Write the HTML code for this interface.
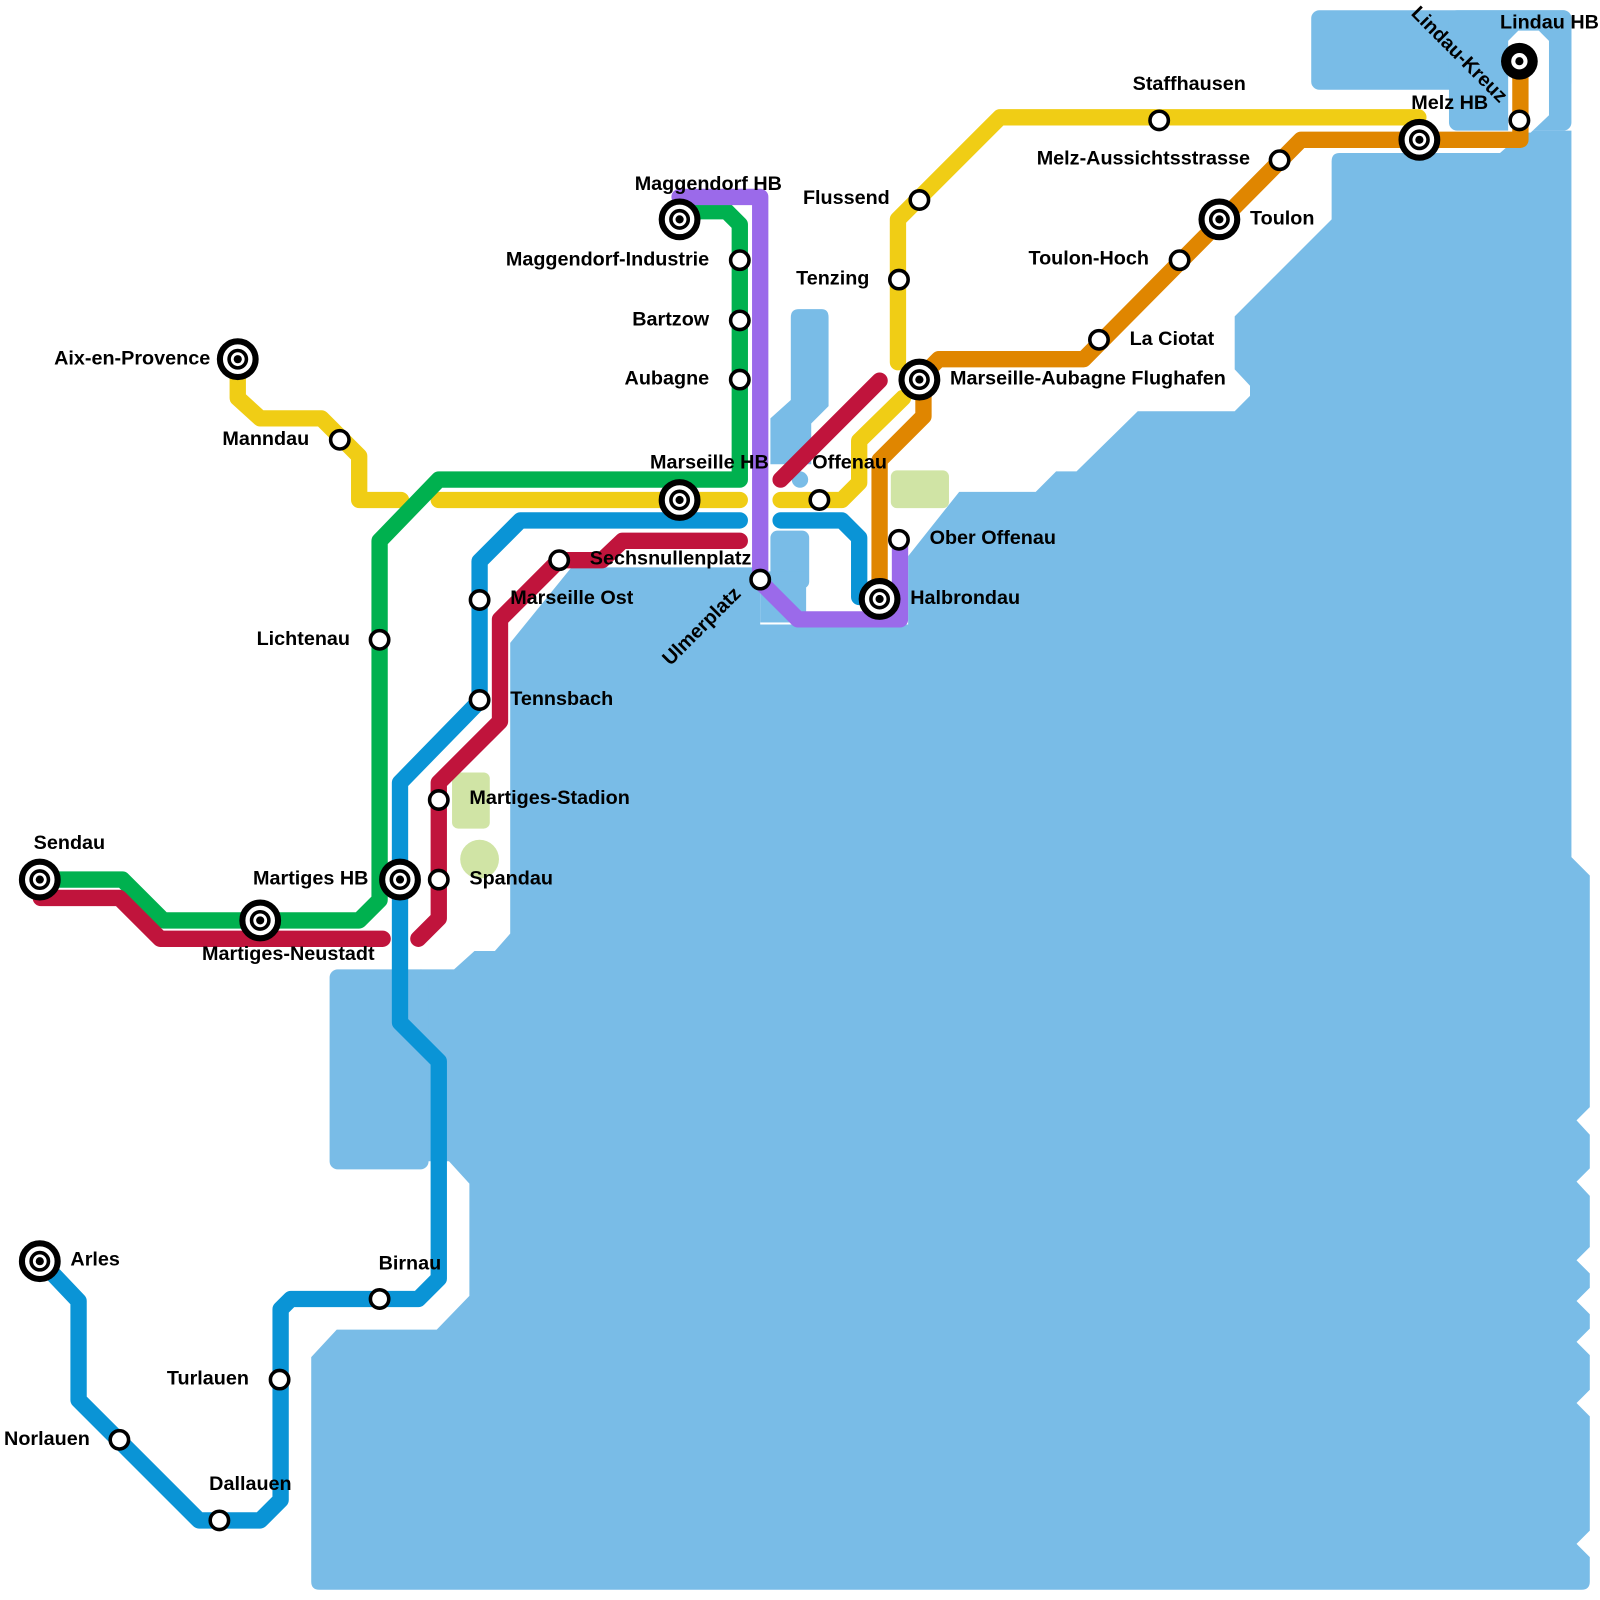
<!DOCTYPE html>
<html><head><meta charset="utf-8"><style>html,body{margin:0;padding:0;background:#fff}svg{display:block}text{font-family:"Liberation Sans",Arial,sans-serif;font-weight:bold;font-size:19.4px;fill:#000}</style></head><body>
<svg width="1600" height="1600" viewBox="0 0 1568 1568" xmlns="http://www.w3.org/2000/svg">
<defs>
<g id="ic"><circle r="17.5" fill="#fff" stroke="#000" stroke-width="6"/><circle r="8.5" fill="#fff" stroke="#000" stroke-width="3.5"/><circle r="4" fill="#000"/></g>
</defs>
<g fill="#79bce7">
<rect x="1285" y="10" width="255" height="78" rx="8"/>
<rect x="1420" y="10" width="120" height="118" rx="8"/>
<path d="M1313,150 H1470 L1495,128 H1540 V840 L1558,858 V1085 L1545,1098 L1558,1112 V1145 L1545,1158 L1558,1172 V1222 L1545,1235 L1558,1248 V1262 L1545,1275 L1558,1288 V1302 L1545,1315 L1558,1328 V1362 L1545,1375 L1558,1388 V1500 L1545,1513 L1558,1526 V1550 Q1558,1558 1550,1558 H313 Q305,1558 305,1550 V1330 L330,1303 H428 L460,1270 V1160 L440,1138 L405,1138 V958 Q405,950 413,950 H445 L465,932 H485 L500,915 V630 L560,556 H745 V612 H890 V545 L940,482 H1015 L1035,462 H1055 L1115,403 H1210 L1225,388 V378 L1210,362 V310 L1305,215 V158 Q1305,150 1313,150 Z"/>
<path d="M755,410 L775,392 V311 Q775,303 783,303 H805 Q812,303 812,311 V398 L795,415 V455 L755,455 Z"/>
<circle cx="784" cy="470" r="8"/>
<rect x="755" y="520" width="38" height="57" rx="7"/>
<rect x="745" y="560" width="45" height="50"/>
<rect x="323" y="950" width="97" height="196" rx="8"/>
</g>
<path d="M1478,40 L1488,30 H1508 L1518,40 V113 L1500,130 H1478 Z" fill="#fff"/>
<g fill="#d0e4a5"><rect x="873" y="461" width="57" height="37" rx="6"/><rect x="443" y="757" width="37" height="55" rx="6"/><circle cx="470" cy="842" r="19"/></g>
<g fill="none" stroke-width="16" stroke-linecap="round" stroke-linejoin="round">
<path stroke="#f0cd15" d="M233,352 V390 L255,410 H315 L352,447 V490 H393 M430,490 H725 M765,490 H825 L842,473 V432 L885,390 M880,355 V215 L980,115 H1390"/>
<path stroke="#00b14f" d="M40,862 H120 L160,902 H352 L372,882 V530 L430,470 H725 V220 L712,207 H666"/>
<path stroke="#c0143c" d="M40,880 H117 L157,920 H375 M410,920 L430,900 V767 L490,707 V607 L548,549 H590 L610,530 H725 M765,470 L862,373"/>
<path stroke="#0a94d6" d="M40,1236 L77,1275 V1372 L195,1490 H255 L275,1470 V1283 L285,1273 H410 L430,1253 V1040 L392,1002 V767 L470,687 V550 L510,510 H725 M765,510 H825 L842,527 V585"/>
<path stroke="#9b6aea" d="M666,193 H745 V570 L782,607 H882 V530"/>
<path stroke="#e08600" d="M1490,60 V137 H1275 L1062,352 H920 L905,367 V408 L862,451 V585"/>
</g>
<g fill="#fff" stroke="#000" stroke-width="3.5">
<circle cx="333" cy="431" r="9"/><circle cx="372" cy="627" r="9"/><circle cx="725" cy="255" r="9"/><circle cx="725" cy="314" r="9"/><circle cx="725" cy="372" r="9"/><circle cx="548" cy="549" r="9"/><circle cx="470" cy="588" r="9"/><circle cx="470" cy="686" r="9"/><circle cx="430" cy="784" r="9"/><circle cx="430" cy="862" r="9"/><circle cx="745" cy="568" r="9"/><circle cx="803" cy="490" r="9"/><circle cx="881" cy="529" r="9"/><circle cx="881" cy="274" r="9"/><circle cx="901" cy="196" r="9"/><circle cx="1136" cy="118" r="9"/><circle cx="1254" cy="157" r="9"/><circle cx="1156" cy="255" r="9"/><circle cx="1077" cy="333" r="9"/><circle cx="1489" cy="118" r="9"/><circle cx="372" cy="1273" r="9"/><circle cx="274" cy="1352" r="9"/><circle cx="117" cy="1411" r="9"/><circle cx="215" cy="1490" r="9"/>
</g>
<use href="#ic" x="233" y="352"/><use href="#ic" x="39" y="862"/><use href="#ic" x="255" y="902"/><use href="#ic" x="392" y="862"/><use href="#ic" x="666" y="490"/><use href="#ic" x="666" y="215"/><use href="#ic" x="862" y="587"/><use href="#ic" x="901" y="372"/><use href="#ic" x="1195" y="215"/><use href="#ic" x="1391" y="137"/><use href="#ic" x="39" y="1236"/>
<circle cx="1489" cy="60" r="18" fill="#000"/><circle cx="1489" cy="60" r="8" fill="#fff"/><circle cx="1489" cy="60" r="4" fill="#000"/>
<text x="206" y="357" text-anchor="end">Aix-en-Provence</text>
<text x="303" y="436" text-anchor="end">Manndau</text>
<text x="343" y="632" text-anchor="end">Lichtenau</text>
<text x="33" y="832">Sendau</text>
<text x="248" y="867">Martiges HB</text>
<text x="198" y="941">Martiges-Neustadt</text>
<text x="695" y="260" text-anchor="end">Maggendorf-Industrie</text>
<text x="695" y="319" text-anchor="end">Bartzow</text>
<text x="695" y="377" text-anchor="end">Aubagne</text>
<text x="622" y="186">Maggendorf HB</text>
<text x="637" y="459">Marseille HB</text>
<text x="578" y="553">Sechsnullenplatz</text>
<text x="500" y="592">Marseille Ost</text>
<text x="500" y="691">Tennsbach</text>
<text x="460" y="788">Martiges-Stadion</text>
<text x="460" y="867">Spandau</text>
<text x="727" y="583" text-anchor="end" transform="rotate(-45 727 583)">Ulmerplatz</text>
<text x="796" y="459">Offenau</text>
<text x="911" y="533">Ober Offenau</text>
<text x="892" y="592">Halbrondau</text>
<text x="931" y="377">Marseille-Aubagne Flughafen</text>
<text x="852" y="279" text-anchor="end">Tenzing</text>
<text x="872" y="200" text-anchor="end">Flussend</text>
<text x="1110" y="88">Staffhausen</text>
<text x="1225" y="161" text-anchor="end">Melz-Aussichtsstrasse</text>
<text x="1225" y="220">Toulon</text>
<text x="1126" y="259" text-anchor="end">Toulon-Hoch</text>
<text x="1107" y="338">La Ciotat</text>
<text x="1383" y="107">Melz HB</text>
<text x="1470" y="28">Lindau HB</text>
<text x="1382" y="14" transform="rotate(45 1382 14)">Lindau-Kreuz</text>
<text x="69" y="1240">Arles</text>
<text x="371" y="1244">Birnau</text>
<text x="244" y="1357" text-anchor="end">Turlauen</text>
<text x="88" y="1416" text-anchor="end">Norlauen</text>
<text x="205" y="1460">Dallauen</text>
</svg>
</body></html>
